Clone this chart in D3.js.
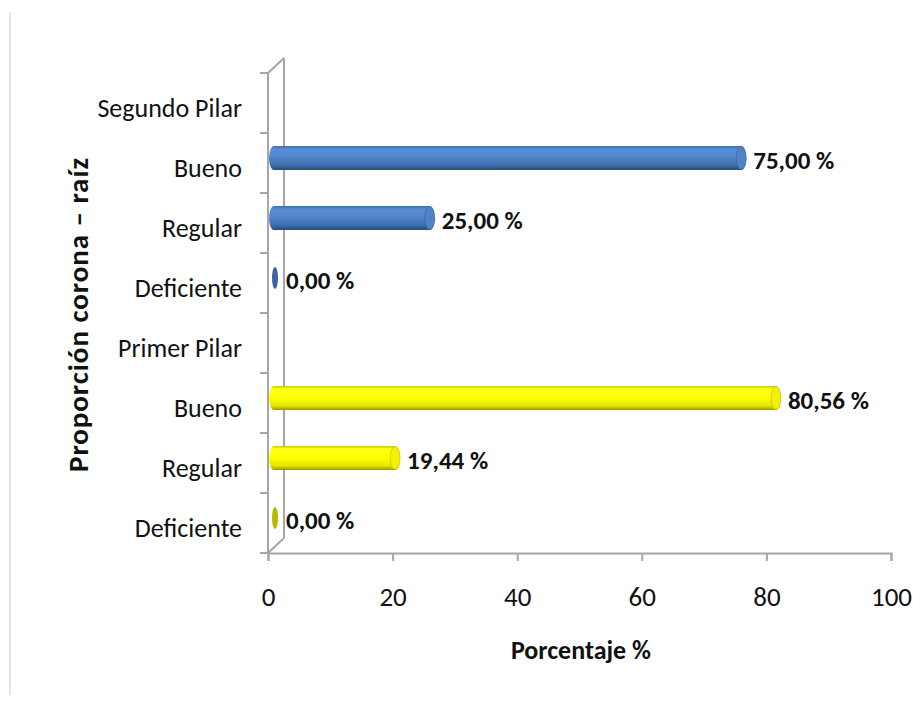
<!DOCTYPE html>
<html>
<head>
<meta charset="utf-8">
<script src="https://d3js.org/d3.v7.min.js"></script>
<style>
  body { margin: 0; background: #fff; }
  svg text { font-family: Carlito, "Liberation Sans Narrow", "Open Sans", sans-serif; fill: #111; }
</style>
</head>
<body>
<div id="chart"></div>
<script>
// rows top to bottom, group headers have no bar
var rowLabels = ["Segundo Pilar", "Bueno", "Regular", "Deficiente", "Primer Pilar", "Bueno", "Regular", "Deficiente"];
var segundoPilar = [75.00, 25.00, 0.00];   // Bueno, Regular, Deficiente
var primerPilar = [80.56, 19.44, 0.00];    // Bueno, Regular, Deficiente
var xTicks = [0, 20, 40, 60, 80, 100];

var width = 913, height = 702;
var svg = d3.select('#chart').append('svg').attr('width', width).attr('height', height);

// build row table from the arrays
var rows = [];
rowLabels.forEach(function(l, i) { rows.push({ label: l, value: null, series: null }); });
segundoPilar.forEach(function(v, i) { rows[1 + i].value = v; rows[1 + i].series = 'segundo'; });
primerPilar.forEach(function(v, i) { rows[5 + i].value = v; rows[5 + i].series = 'primer'; });

var x = d3.scaleLinear().domain([0, 100]).range([268, 891]);
var y = d3.scaleBand().domain(d3.range(rows.length)).range([73, 553]);
var depthX = 16, depthY = -15;
var barShift = 11, barH = 24;

// thin frame line on the left
svg.append('line').attr('x1', 10).attr('x2', 10).attr('y1', 12).attr('y2', 695)
  .attr('stroke', '#c8c8c8').attr('stroke-width', 1);

// gradients
var defs = svg.append('defs');
function grad(id, stops) {
  var g = defs.append('linearGradient').attr('id', id).attr('x1', 0).attr('x2', 0).attr('y1', 0).attr('y2', 1);
  stops.forEach(function(s) { g.append('stop').attr('offset', s[0]).attr('stop-color', s[1]); });
}
grad('blue', [['0%', '#3f6ea8'], ['15%', '#5a8fd4'], ['45%', '#5088cc'], ['80%', '#3f6dab'], ['100%', '#2b4a76']]);
grad('yellow', [['0%', '#c8c800'], ['12%', '#ffff1a'], ['50%', '#ffff00'], ['82%', '#e6e600'], ['100%', '#9a9a00']]);
var capColor = { segundo: '#4f84c6', primer: '#f2f200' };
var capEdge = { segundo: '#2f5a90', primer: '#a8a800' };
var zeroColor = { segundo: '#3a64a0', primer: '#b8b800' };

var grid = '#a6a6a6';

// 3D walls
svg.append('path')
  .attr('d', 'M' + x(0) + ',' + y.range()[0] + 'L' + x(0) + ',' + y.range()[1] +
    'M' + (x(0) + depthX) + ',' + (y.range()[0] + depthY) + 'L' + (x(0) + depthX) + ',' + (y.range()[1] + depthY) +
    'M' + x(0) + ',' + y.range()[0] + 'L' + (x(0) + depthX) + ',' + (y.range()[0] + depthY) +
    'M' + x(0) + ',' + y.range()[1] + 'L' + (x(0) + depthX) + ',' + (y.range()[1] + depthY))
  .attr('fill', 'none').attr('stroke', grid).attr('stroke-width', 2);

// category ticks
var bounds = d3.range(rows.length + 1).map(function(i) { return i < rows.length ? y(i) : y.range()[1]; });
svg.append('g').selectAll('line').data(bounds).enter().append('line')
  .attr('x1', x(0) - 8).attr('x2', x(0)).attr('y1', function(d) { return d; }).attr('y2', function(d) { return d; })
  .attr('stroke', grid).attr('stroke-width', 2);

// category labels
svg.append('g').selectAll('text').data(rows).enter().append('text')
  .attr('x', 242).attr('y', function(d, i) { return y(i) + y.bandwidth() / 2 + 14; })
  .attr('text-anchor', 'end')
  .style('font-size', '26px')
  .text(function(d) { return d.label; });

// x axis
var xAxis = svg.append('g').attr('transform', 'translate(0,' + y.range()[1] + ')')
  .call(d3.axisBottom(x).tickValues(xTicks).tickSize(8).tickPadding(26).tickFormat(d3.format('d')));
xAxis.select('.domain').attr('stroke', grid).attr('stroke-width', 2);
xAxis.selectAll('.tick line').attr('stroke', grid).attr('stroke-width', 2);
xAxis.selectAll('.tick text').style('font-size', '27px').style('font-family', null).attr('fill', '#222');

// bars as cylinders
var xb = function(v) { return x(v) + barShift; };
var bars = svg.append('g').selectAll('g').data(rows.filter(function(d) { return d.value !== null; })).enter()
  .append('g');

bars.each(function(d) {
  var g = d3.select(this);
  var i = rows.indexOf(d);
  var cy = y(i) + y.bandwidth() / 2 - 5;
  var x0 = xb(0), x1 = xb(d.value);
  var r = barH / 2, rx = 5;
  if (d.value === 0) {
    g.append('ellipse').attr('cx', x0 - 4).attr('cy', cy).attr('rx', 3).attr('ry', r - 1)
      .attr('fill', zeroColor[d.series]);
  } else {
    g.append('path')
      .attr('d', 'M' + x0 + ',' + (cy - r) + 'L' + x1 + ',' + (cy - r) +
        'A' + rx + ',' + r + ' 0 0 1 ' + x1 + ',' + (cy + r) +
        'L' + x0 + ',' + (cy + r) +
        'A' + rx + ',' + r + ' 0 0 1 ' + x0 + ',' + (cy - r) + 'Z')
      .attr('transform', 'translate(-5,0)')
      .attr('fill', 'url(#' + (d.series === 'segundo' ? 'blue' : 'yellow') + ')');
    g.append('ellipse').attr('cx', x1 - 5).attr('cy', cy).attr('rx', rx).attr('ry', r - 0.5)
      .attr('fill', capColor[d.series]).attr('stroke', capEdge[d.series]).attr('stroke-width', 0.8)
      .attr('stroke-opacity', 0.6);
  }
  g.append('text')
    .attr('x', x1 + 7).attr('y', cy + 11)
    .style('font-size', '25px').style('font-weight', 'bold')
    .text(d3.format('.2f')(d.value).replace('.', ',') + ' %');
});

// axis titles
svg.append('text').attr('x', 581).attr('y', 659).attr('text-anchor', 'middle')
  .style('font-size', '26px').style('font-weight', 'bold').text('Porcentaje %');
svg.append('text').attr('transform', 'translate(88,315) rotate(-90)').attr('text-anchor', 'middle')
  .attr('textLength', 314).attr('lengthAdjust', 'spacing')
  .style('font-size', '29px').style('font-weight', 'bold').text('Proporción corona – raíz');
</script>
</body>
</html>
